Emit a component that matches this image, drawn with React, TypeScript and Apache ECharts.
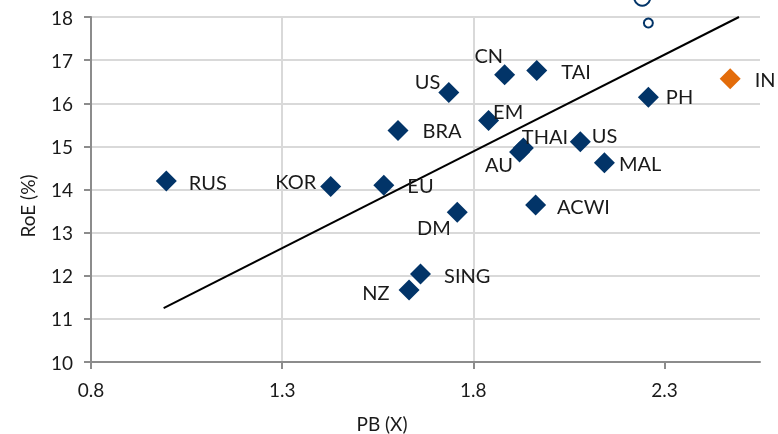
import React, { useEffect, useRef } from "react";
import * as echarts from "echarts";

// Market valuations: price-to-book (x) against return on equity (%)
const markets = ["RUS", "KOR", "EU", "DM", "SING", "NZ", "BRA", "US", "CN", "TAI", "EM", "THAI", "AU", "US", "MAL", "ACWI", "PH"];
const pbValues = [0.997, 1.427, 1.566, 1.758, 1.662, 1.632, 1.603, 1.736, 1.882, 1.966, 1.84, 1.931, 1.921, 2.08, 2.143, 1.963, 2.258];
const roeValues = [14.2, 14.07, 14.1, 13.47, 12.04, 11.67, 15.37, 16.25, 16.66, 16.76, 15.6, 14.96, 14.87, 15.11, 14.62, 13.64, 16.14];

// India, highlighted
const focusMarket = ["IN"];
const focusPb = [2.472];
const focusRoe = [16.57];

// Hollow reference markers
const markerPb = [2.242, 2.258];
const markerRoe = [18.45, 17.86];

// Linear fit endpoints
const trendPb = [0.99, 2.495];
const trendRoe = [11.25, 18.0];

// Axis ticks
const xTickValues = [0.8, 1.3, 1.8, 2.3];
const yTickValues = [10, 11, 12, 13, 14, 15, 16, 17, 18];

// Label placement per market: [side, dx, dy]
const labelPlacement: [string, number, number][] = [
  ["right", 12, 1],
  ["left", -4, -5],
  ["right", 13, 0],
  ["left", 4, 15],
  ["right", 13, 1],
  ["left", -9, 2],
  ["right", 14, 0],
  ["left", 2, -11],
  ["left", 9, -20],
  ["right", 14, 1],
  ["right", -6, -10],
  ["right", -12, -12],
  ["left", 4, 12],
  ["right", 1, -7],
  ["right", 4, 0],
  ["right", 11, 1],
  ["right", 7, -1],
];
const focusPlacement: [string, number, number][] = [["right", 14, 0]];
const markerSizes = [16, 9];

const NAVY = "#023468";
const ORANGE = "#e36c0a";
const FONT = "Lato";
const TEXT = "#1a1a1a";

export default function App() {
  const ref = useRef<HTMLDivElement>(null);

  useEffect(() => {
    if (!ref.current) return;
    const chart = echarts.init(ref.current, null, { renderer: "svg" });

    const labelled = (names: string[], xs: number[], ys: number[], place: [string, number, number][]) =>
      names.map((n, i) => ({
        name: n,
        value: [xs[i], ys[i]],
        label: {
          show: true,
          position: place[i][0],
          distance: 0,
          offset: [place[i][1], place[i][2]],
          formatter: n,
        },
      }));

    chart.setOption({
      animation: false,
      grid: { left: 91, right: 18, top: 17, bottom: 72 },
      xAxis: {
        type: "value",
        min: 0.8,
        max: 2.55,
        interval: 0.5,
        axisLine: { show: true, lineStyle: { color: "#8c8c8c", width: 2 } },
        axisTick: { show: true, length: 7, lineStyle: { color: "#8c8c8c", width: 2 }, customValues: xTickValues },
        axisLabel: {
          customValues: xTickValues,
          formatter: (v: number) => v.toFixed(1),
          color: TEXT,
          fontFamily: FONT,
          fontSize: 19,
          margin: 18,
        },
        splitLine: { show: true, showMinLine: false, showMaxLine: false, lineStyle: { color: "#d9d9d9", width: 2 } },
      },
      yAxis: {
        type: "value",
        min: 10,
        max: 18,
        interval: 1,
        axisLine: { show: true, lineStyle: { color: "#8c8c8c", width: 2 } },
        axisTick: { show: true, length: 7, lineStyle: { color: "#8c8c8c", width: 2 }, customValues: yTickValues },
        axisLabel: {
          customValues: yTickValues,
          color: TEXT,
          fontFamily: FONT,
          fontSize: 19,
          margin: 18,
        },
        splitLine: { show: true, showMinLine: false, lineStyle: { color: "#d9d9d9", width: 2 } },
      },
      graphic: [
        {
          type: "text",
          x: 27,
          y: 206,
          rotation: Math.PI / 2,
          style: {
            text: "RoE (%)",
            fill: TEXT,
            font: `19px ${FONT}`,
            align: "center",
            verticalAlign: "middle",
          },
        },
        {
          type: "text",
          x: 382,
          y: 423,
          style: {
            text: "PB (X)",
            fill: TEXT,
            font: `19px ${FONT}`,
            align: "center",
            verticalAlign: "middle",
          },
        },
      ],
      series: [
        {
          type: "line",
          data: trendPb.map((x, i) => [x, trendRoe[i]]),
          showSymbol: false,
          silent: true,
          z: 1,
          lineStyle: { color: "#000000", width: 2 },
        },
        {
          type: "scatter",
          symbol: "diamond",
          symbolSize: 21,
          z: 3,
          itemStyle: { color: NAVY, opacity: 1 },
          label: { color: TEXT, fontFamily: FONT, fontSize: 20 },
          data: labelled(markets, pbValues, roeValues, labelPlacement),
        },
        {
          type: "scatter",
          symbol: "diamond",
          symbolSize: 21,
          z: 3,
          itemStyle: { color: ORANGE, opacity: 1 },
          label: { color: TEXT, fontFamily: FONT, fontSize: 20 },
          data: labelled(focusMarket, focusPb, focusRoe, focusPlacement),
        },
        {
          type: "scatter",
          symbol: "circle",
          clip: false,
          z: 3,
          symbolSize: (_v: number[], p: { dataIndex: number }) => markerSizes[p.dataIndex],
          itemStyle: { color: "#ffffff", borderColor: NAVY, borderWidth: 2, opacity: 1 },
          data: markerPb.map((x, i) => [x, markerRoe[i]]),
        },
      ],
    });

    return () => chart.dispose();
  }, []);

  return <div ref={ref} style={{ position: "fixed", left: 0, top: 0, width: 778, height: 434 }} />;
}
